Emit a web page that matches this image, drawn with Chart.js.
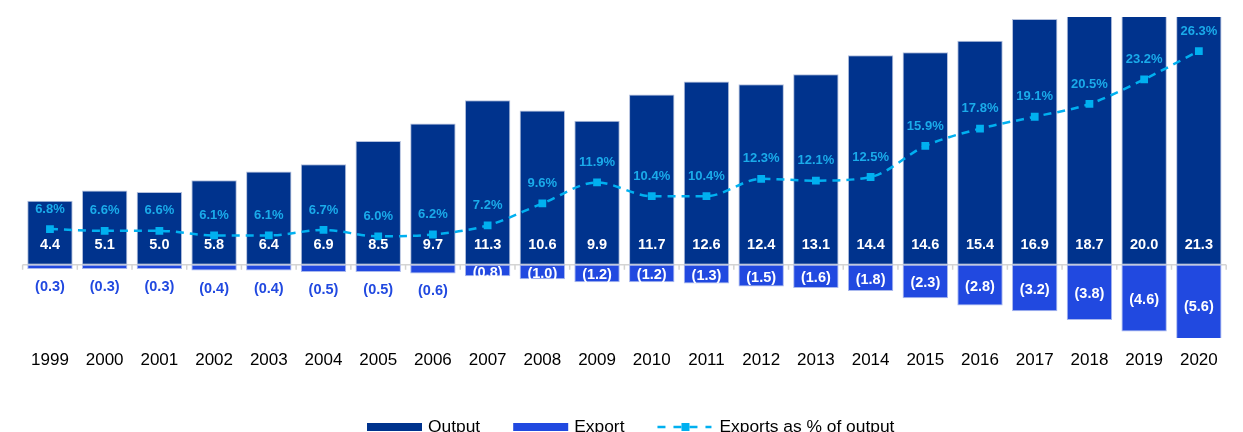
<!DOCTYPE html>
<html>
<head>
<meta charset="utf-8">
<script src="https://cdn.jsdelivr.net/npm/chart.js@4/dist/chart.umd.min.js"></script>
<style>
html,body{margin:0;padding:0;background:#fff;}
#wrap{width:1243px;height:432px;position:relative;}
</style>
</head>
<body>
<div id="wrap"><canvas id="c" width="1243" height="432"></canvas></div>
<script>
const years = ['1999','2000','2001','2002','2003','2004','2005','2006','2007','2008','2009','2010','2011','2012','2013','2014','2015','2016','2017','2018','2019','2020'];
const outputValues = [4.4,5.1,5.0,5.8,6.4,6.9,8.5,9.7,11.3,10.6,9.9,11.7,12.6,12.4,13.1,14.4,14.6,15.4,16.9,18.7,20.0,21.3];
const exportValues = [-0.3,-0.3,-0.3,-0.4,-0.4,-0.5,-0.5,-0.6,-0.8,-1.0,-1.2,-1.2,-1.3,-1.5,-1.6,-1.8,-2.3,-2.8,-3.2,-3.8,-4.6,-5.6];
const exportShare = [6.8,6.6,6.6,6.1,6.1,6.7,6.0,6.2,7.2,9.6,11.9,10.4,10.4,12.3,12.1,12.5,15.9,17.8,19.1,20.5,23.2,26.3];

const NAVY = '#00338d';
const BLUE = '#2149e0';
const CYAN = '#00b0f0';
const PCT_TXT = '#1aabea';
const FONT = '"Liberation Sans", Arial, sans-serif';

const zeroLinePlugin = {
  id: 'zeroLine',
  beforeDatasetsDraw(chart) {
    const {ctx, chartArea, scales} = chart;
    const y0 = scales.y.getPixelForValue(0);
    const n = years.length;
    const step = (chartArea.right - chartArea.left) / n;
    ctx.save();
    ctx.strokeStyle = '#d4d4d4';
    ctx.lineWidth = 1.5;
    ctx.beginPath();
    ctx.moveTo(chartArea.left, y0);
    ctx.lineTo(chartArea.right, y0);
    for (let i = 0; i <= n; i++) {
      const x = chartArea.left + i * step;
      ctx.moveTo(x, y0);
      ctx.lineTo(x, y0 + 5);
    }
    ctx.stroke();
    ctx.restore();
  }
};

const labelPlugin = {
  id: 'labels',
  afterDatasetsDraw(chart) {
    const {ctx, scales} = chart;
    const y0 = scales.y.getPixelForValue(0);
    ctx.save();
    ctx.textAlign = 'center';
    ctx.textBaseline = 'middle';
    ctx.font = 'bold 14.5px ' + FONT;
    ctx.fillStyle = '#ffffff';
    chart.getDatasetMeta(0).data.forEach((el, i) => {
      ctx.fillText(outputValues[i].toFixed(1), el.x, y0 - 20);
    });
    chart.getDatasetMeta(1).data.forEach((el, i) => {
      const v = exportValues[i];
      const yb = scales.y.getPixelForValue(v);
      const txt = '(' + Math.abs(v).toFixed(1) + ')';
      if (i < 8) {
        ctx.fillStyle = BLUE;
        ctx.fillText(txt, el.x, yb + 18);
      } else {
        ctx.fillStyle = '#ffffff';
        ctx.fillText(txt, el.x, (y0 + yb) / 2 + 2);
      }
    });
    ctx.font = 'bold 13px ' + FONT;
    ctx.fillStyle = PCT_TXT;
    chart.getDatasetMeta(2).data.forEach((el, i) => {
      ctx.fillText(exportShare[i].toFixed(1) + '%', el.x, el.y - 20);
    });
    ctx.restore();
  }
};

const legendPlugin = {
  id: 'customLegend',
  afterDraw(chart) {
    const {ctx} = chart;
    ctx.save();
    ctx.font = '17.4px ' + FONT;
    ctx.textBaseline = 'alphabetic';
    ctx.fillStyle = '#000';
    const base = 432;
    const boxY = 423, boxH = 8;
    let x = 367;
    const items = [
      {type: 'box', color: NAVY, label: 'Output'},
      {type: 'box', color: BLUE, label: 'Export'},
      {type: 'line', color: CYAN, label: 'Exports as % of output'}
    ];
    items.forEach(it => {
      if (it.type === 'box') {
        ctx.fillStyle = it.color;
        ctx.fillRect(x, boxY, 55, boxH);
        x += 55 + 6;
      } else {
        ctx.strokeStyle = it.color;
        ctx.lineWidth = 2.5;
        ctx.setLineDash([8, 8]);
        ctx.beginPath();
        ctx.moveTo(x, boxY + 4);
        ctx.lineTo(x + 54, boxY + 4);
        ctx.stroke();
        ctx.setLineDash([]);
        ctx.fillStyle = it.color;
        ctx.fillRect(x + 24, boxY, 8, 8);
        x += 54 + 8;
      }
      ctx.fillStyle = '#000';
      ctx.fillText(it.label, x, base);
      x += ctx.measureText(it.label).width + 33;
    });
    ctx.restore();
  }
};

new Chart(document.getElementById('c'), {
  type: 'bar',
  data: {
    labels: years,
    datasets: [
      {
        label: 'Output',
        data: outputValues,
        backgroundColor: NAVY,
        borderColor: '#b3c0dd',
        borderWidth: 1,
        borderSkipped: false,
        yAxisID: 'y',
        stack: 's',
        order: 2,
        clip: 0
      },
      {
        label: 'Export',
        data: exportValues,
        backgroundColor: BLUE,
        borderColor: '#a9b8ee',
        borderWidth: 1,
        borderSkipped: false,
        yAxisID: 'y',
        stack: 's',
        order: 2,
        clip: 0
      },
      {
        type: 'line',
        label: 'Exports as % of output',
        data: exportShare,
        yAxisID: 'y1',
        borderColor: CYAN,
        backgroundColor: CYAN,
        borderWidth: 2.5,
        borderDash: [8, 6],
        pointStyle: 'rect',
        pointRadius: 5.5,
        pointBorderWidth: 0,
        pointBackgroundColor: CYAN,
        tension: 0.4,
        cubicInterpolationMode: 'monotone',
        fill: false,
        order: 0
      }
    ]
  },
  options: {
    responsive: false,
    animation: false,
    layout: {padding: {left: 22.6, right: 16.8, top: 17, bottom: 49.6}},
    datasets: {bar: {barPercentage: 0.83, categoryPercentage: 1.0}},
    plugins: {legend: {display: false}, tooltip: {enabled: false}},
    scales: {
      x: {
        stacked: true,
        grid: {display: false, drawTicks: false},
        border: {display: false},
        ticks: {color: '#000', padding: 12, font: {family: FONT, size: 17}, maxRotation: 0, autoSkip: false}
      },
      y: {
        display: false,
        stacked: true,
        min: -5.04,
        max: 17.03
      },
      y1: {
        display: false,
        min: -5.14,
        max: 30.03
      }
    }
  },
  plugins: [zeroLinePlugin, labelPlugin, legendPlugin]
});
</script>
</body>
</html>
